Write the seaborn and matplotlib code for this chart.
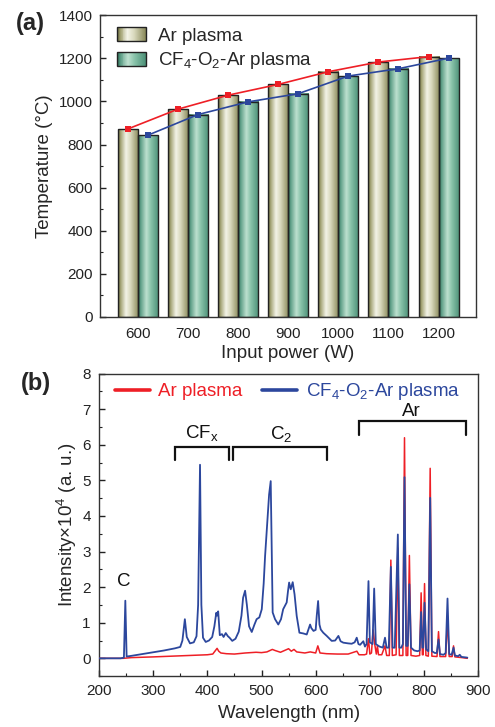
import numpy as np
import pandas as pd
import matplotlib
matplotlib.use('Agg')
import matplotlib.pyplot as plt
import seaborn as sns
from matplotlib.colors import LinearSegmentedColormap
from matplotlib.patches import Rectangle
from matplotlib.legend_handler import HandlerBase
from matplotlib.lines import Line2D
from matplotlib.ticker import MultipleLocator

# ---------------- data: panel (a) ----------------
powers = ['600', '700', '800', '900', '1000', '1100', '1200']
temp_ar = [872, 964, 1029, 1079, 1138, 1183, 1208]
temp_cf = [843, 939, 998, 1036, 1118, 1152, 1201]
series_names = ['Ar plasma', 'CF$_4$-O$_2$-Ar plasma']

# ---------------- data: panel (b) ----------------
blue_wl = [200, 240, 246, 248.6, 251, 260, 280, 300, 320, 340, 350, 354, 358.5, 362, 368,
           375, 380, 383, 386.5, 389, 392, 397, 403, 409, 413, 416.5, 418, 420, 423, 427,
           430, 434, 438, 441, 446, 452, 458, 463, 466, 469.7, 473, 477, 482, 487, 491,
           496, 500.5, 504, 506.6, 511, 514, 517, 519, 520.6, 525, 531, 536, 540, 546.5,
           549, 551, 554, 557.6, 561, 565, 570, 577, 583.5, 589.7, 592, 596, 600, 602,
           604.5, 607, 609.4, 614, 620.4, 629.6, 636, 642, 646, 651, 660, 666.5, 672,
           675.8, 679, 682, 688, 691, 694, 697.5, 700, 705, 708, 711, 718, 724, 728, 731,
           735, 738.8, 742, 746, 751.7, 754.5, 758, 761, 764, 767, 770, 773, 776, 782,
           788, 792, 794.7, 797, 798.5, 801, 804, 808, 811.4, 814.5, 820, 823.5, 826.8,
           829.5, 836, 840, 843.4, 846.5, 851, 854.5, 857, 863, 866, 869, 880]
blue_int = [0.0, 0.0, 0.02, 1.62, 0.05, 0.07, 0.12, 0.17, 0.22, 0.28, 0.32, 0.5, 1.1, 0.6, 0.42,
            0.45, 0.62, 1.5, 5.44, 1.5, 0.58, 0.46, 0.5, 0.6, 0.9, 1.28, 1.2, 1.32, 0.65, 0.68,
            0.6, 0.71, 0.62, 0.58, 0.49, 0.55, 0.75, 1.2, 1.7, 1.9, 1.5, 0.9, 0.74, 0.95, 1.1,
            1.15, 1.38, 2.1, 2.87, 3.9, 4.6, 4.98, 3.0, 1.29, 1.1, 0.95, 1.1, 1.38, 1.57,
            1.9, 2.13, 1.94, 2.14, 1.8, 1.19, 0.72, 0.7, 0.67, 0.95, 0.85, 0.77, 0.8, 1.2,
            1.61, 0.95, 0.81, 0.72, 0.63, 0.49, 0.5, 0.63, 0.48, 0.44, 0.42, 0.41, 0.45,
            0.58, 0.4, 0.38, 0.48, 0.33, 0.4, 2.17, 0.45, 0.4, 1.96, 0.4, 0.33, 0.3, 0.58, 0.3,
            0.3, 2.57, 0.3, 0.3, 3.48, 0.3, 0.3, 0.4, 5.09, 0.35, 0.35, 2.08, 0.3, 0.22,
            0.2, 0.22, 1.3, 0.3, 0.3, 1.56, 0.25, 0.2, 4.51, 0.2, 0.15, 0.15, 0.53,
            0.12, 0.1, 0.15, 1.68, 0.12, 0.1, 0.3, 0.08, 0.06, 0.1, 0.04, 0.02]

red_wl = [200, 245, 260, 300, 350, 400, 410, 415, 418, 421, 425, 435, 450, 470, 490, 500,
          510, 520, 525, 535, 550, 555, 560, 565, 580, 590, 600, 604, 608, 620, 640, 660,
          676, 680, 690, 694, 697.5, 700, 703, 706, 709, 712, 714, 716, 722, 728, 731, 736,
          738.8, 741.5, 748.5, 751.7, 754.5, 761, 764, 767, 770, 773, 776, 785, 792, 794.7,
          797, 798.5, 801, 803.5, 808, 811.4, 814.5, 824, 826.8, 829.5, 840, 843.4, 846.5,
          852, 854.5, 857, 870, 880]
red_int = [0.0, 0.0, 0.02, 0.04, 0.07, 0.1, 0.12, 0.22, 0.28, 0.2, 0.15, 0.13, 0.12, 0.15,
           0.17, 0.16, 0.18, 0.25, 0.22, 0.17, 0.27, 0.2, 0.25, 0.18, 0.15, 0.18, 0.15, 0.35,
           0.15, 0.13, 0.12, 0.12, 0.2, 0.1, 0.1, 0.12, 0.55, 0.12, 0.15, 0.8, 0.4, 0.12,
           0.35, 0.1, 0.1, 0.35, 0.08, 0.08, 2.76, 0.08, 0.1, 3.1, 0.08, 0.08, 6.2, 0.08,
           0.08, 2.89, 0.08, 0.06, 0.08, 1.84, 0.1, 0.1, 2.1, 0.08, 0.06, 5.34, 0.06, 0.05,
           0.75, 0.05, 0.05, 1.1, 0.05, 0.05, 0.35, 0.04, 0.02, 0.0]

bracket_x0 = [340, 447.5, 679.7]
bracket_x1 = [440, 620, 876.7]
bracket_top = [5.94, 5.94, 6.66]
bracket_bottom = [5.58, 5.58, 6.29]
band_labels = ['CF$_x$', 'C$_2$', 'Ar', 'C']
band_label_x = [389, 535.6, 777, 245.6]
band_label_y = [6.33, 6.31, 6.95, 2.17]

# ---------------- style ----------------
sns.set_theme(style='ticks')
plt.rcParams['font.family'] = ['Liberation Sans', 'DejaVu Sans']
plt.rcParams['mathtext.fontset'] = 'custom'
plt.rcParams['mathtext.rm'] = 'Liberation Sans'
plt.rcParams['mathtext.it'] = 'Liberation Sans'
plt.rcParams['mathtext.bf'] = 'Liberation Sans:bold'
plt.rcParams['mathtext.default'] = 'regular'

RED = '#ee1f26'
BLUE = '#2c479d'
EDGE = '#333333'

cm_ar = LinearSegmentedColormap.from_list('ar', [(0, '#646436'), (0.12, '#a3a374'), (0.38, '#f3f3e6'),
                                                 (0.6, '#d9d9bd'), (1, '#878757')])
cm_cf = LinearSegmentedColormap.from_list('cf', [(0, '#276a52'), (0.12, '#5d9e86'), (0.4, '#bde0cf'),
                                                 (0.62, '#88c2a9'), (1, '#4a8f76')])

fig = plt.figure(figsize=(4.95, 7.27), dpi=100)
ax1 = fig.add_axes([0.202, 0.564, 0.760, 0.415])
ax2 = fig.add_axes([0.200, 0.070, 0.766, 0.416])

# ---------------- panel (a) ----------------
df = pd.DataFrame({'power': powers * 2,
                   'temp': temp_ar + temp_cf,
                   'series': [series_names[0]] * len(powers) + [series_names[1]] * len(powers)})
sns.barplot(data=df, x='power', y='temp', hue='series', hue_order=series_names,
            palette=['#c8c8a8', '#8cc4ac'], width=0.8, edgecolor='#222222', linewidth=1.0,
            saturation=1, errorbar=None, legend=False, ax=ax1)

grad = np.linspace(0, 1, 128).reshape(1, -1)
centers = []
for cont, cm in zip(ax1.containers[:2], [cm_ar, cm_cf]):
    cx = []
    for bar in cont:
        x0, w, h = bar.get_x(), bar.get_width(), bar.get_height()
        ax1.imshow(grad, extent=[x0, x0 + w, 0, h], aspect='auto', cmap=cm, zorder=2,
                   interpolation='bilinear')
        bar.set_facecolor('none')
        bar.set_zorder(3)
        cx.append(x0 + w / 2)
    centers.append(cx)

sns.lineplot(x=centers[0], y=temp_ar, color=RED, lw=1.2, marker='s', markersize=5,
             markeredgewidth=0, ax=ax1, zorder=5)
sns.lineplot(x=centers[1], y=temp_cf, color=BLUE, lw=1.2, marker='s', markersize=5,
             markeredgewidth=0, ax=ax1, zorder=5)

ax1.set_xlim(-0.75, 6.75)
ax1.set_ylim(0, 1400)
ax1.yaxis.set_major_locator(MultipleLocator(200))
ax1.yaxis.set_minor_locator(MultipleLocator(100))
ax1.set_xlabel('Input power (W)', fontsize=13.5, labelpad=3)
ax1.set_ylabel('Temperature (°C)', fontsize=13.5, labelpad=4)
ax1.tick_params(axis='y', which='major', direction='in', length=4, width=1, labelsize=11,
                pad=5, colors='#222222')
ax1.tick_params(axis='y', which='minor', direction='in', length=2.5, width=0.8, colors='#222222')
ax1.tick_params(axis='x', which='both', length=0, labelsize=11, pad=7, colors='#222222')


class GradHandler(HandlerBase):
    def __init__(self, cmap):
        super().__init__()
        self.cmap = cmap

    def create_artists(self, legend, orig_handle, xdescent, ydescent, width, height,
                       fontsize, trans):
        n = 30
        arts = []
        for i in range(n):
            arts.append(Rectangle((-xdescent + i * width / n, -ydescent), width / n * 1.05, height,
                                  facecolor=self.cmap((i + 0.5) / n), edgecolor='none',
                                  transform=trans))
        arts.append(Rectangle((-xdescent, -ydescent), width, height, fill=False,
                              edgecolor='#222222', lw=1.0, transform=trans))
        return arts


h_ar = Rectangle((0, 0), 1, 1)
h_cf = Rectangle((0, 0), 1, 1)
ax1.legend([h_ar, h_cf], series_names, loc='upper left', bbox_to_anchor=(0.012, 1.0),
           frameon=False, fontsize=13.5, handlelength=1.55, handleheight=0.75,
           handletextpad=0.65, labelspacing=0.3, borderaxespad=0.25,
           handler_map={h_ar: GradHandler(cm_ar), h_cf: GradHandler(cm_cf)})

# ---------------- panel (b) ----------------
sns.lineplot(x=red_wl, y=red_int, color=RED, lw=1.1, ax=ax2, zorder=3)
sns.lineplot(x=blue_wl, y=blue_int, color=BLUE, lw=1.3, ax=ax2, zorder=4)

for x0, x1, yt, yb in zip(bracket_x0, bracket_x1, bracket_top, bracket_bottom):
    ax2.plot([x0, x0, x1, x1], [yb, yt, yt, yb], color='#111111', lw=1.6,
             solid_joinstyle='miter', zorder=5)
for lab, lx, ly in zip(band_labels, band_label_x, band_label_y):
    ax2.text(lx, ly, lab, fontsize=13.5, ha='center', va='center', color='#111111')

ax2.set_xlim(200, 900)
ax2.set_ylim(-0.5, 8)
ax2.xaxis.set_major_locator(MultipleLocator(100))
ax2.xaxis.set_minor_locator(MultipleLocator(50))
ax2.yaxis.set_major_locator(MultipleLocator(1))
ax2.yaxis.set_minor_locator(MultipleLocator(0.5))
ax2.set_xlabel('Wavelength (nm)', fontsize=13.5, labelpad=5)
ax2.set_ylabel('Intensity×10$^4$ (a. u.)', fontsize=13.5, labelpad=2)
ax2.tick_params(which='major', direction='in', length=4, width=1, labelsize=11, pad=6,
                colors='#222222')
ax2.tick_params(which='minor', direction='in', length=2.5, width=0.8, colors='#222222')

leg_handles = [Line2D([], [], color=RED, lw=2.6), Line2D([], [], color=BLUE, lw=2.6)]
ax2.legend(leg_handles, series_names, loc='upper left', bbox_to_anchor=(0.022, 1.0), ncol=2,
           frameon=False, fontsize=13.5, handlelength=1.87, handletextpad=0.45,
           columnspacing=1.05, borderaxespad=0.0, labelcolor=[RED, BLUE])

for ax in (ax1, ax2):
    for sp in ax.spines.values():
        sp.set_visible(True)
        sp.set_color(EDGE)
        sp.set_linewidth(1.0)

fig.text(0.062, 0.968, '(a)', fontsize=17, fontweight='bold', ha='center', va='center')
fig.text(0.072, 0.473, '(b)', fontsize=17, fontweight='bold', ha='center', va='center')

fig.savefig('out.png', dpi=100)
